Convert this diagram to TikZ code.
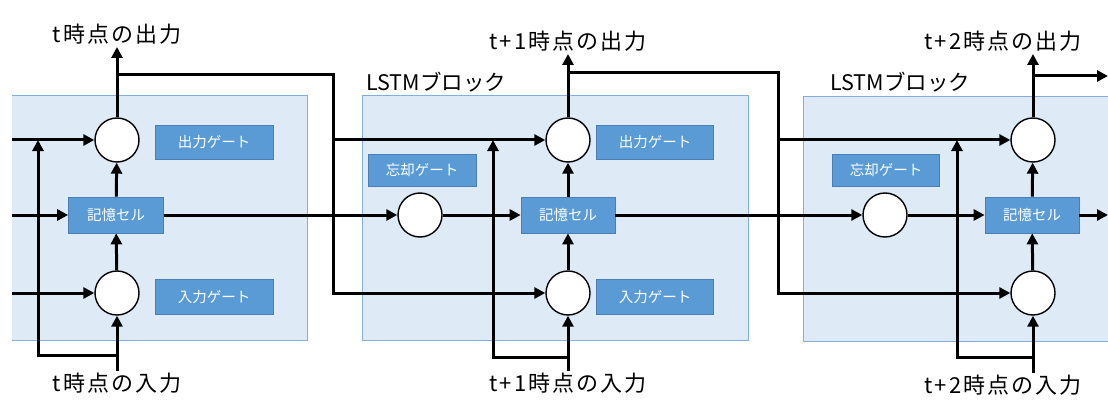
\documentclass[tikz,border=0pt]{standalone}
\usepackage{fontspec}
\setmainfont{Noto Sans CJK JP}
\newfontfamily\iofont[LetterSpace=9]{Noto Sans CJK JP}
\usetikzlibrary{arrows.meta}

\definecolor{blockfill}{HTML}{DEEBF7}
\definecolor{blockline}{HTML}{86AEDB}
\definecolor{tagfill}{HTML}{5B9BD5}
\definecolor{tagline}{HTML}{4A7FB5}

\begin{document}
\begin{tikzpicture}[x=1pt,y=-1pt,
    block/.style={fill=blockfill, draw=blockline, line width=0.9pt},
    gate/.style={circle, draw, fill=white, line width=1.4pt, minimum size=44pt, inner sep=0pt},
    tag/.style={rectangle, fill=tagfill, draw=tagline, line width=0.7pt, text=white,
                font=\fontsize{14.5}{16}\selectfont, inner sep=0pt},
    conn/.style={line width=3pt},
    arr/.style={conn, -{Triangle[length=11pt,width=11pt]}},
    io/.style={font=\iofont\fontsize{22}{25}\selectfont, inner sep=2pt},
    blocklabel/.style={font=\fontsize{21.5}{24}\selectfont, inner sep=0pt, anchor=south west}]
  \useasboundingbox (0,0) rectangle (1108,401);

  % LSTM blocks
  \fill[blockfill] (12,95) rectangle (307,340);
  \draw[blockline, line width=0.9pt] (12,95) -- (307,95) -- (307,340) -- (12,340);
  \draw[block] (362,95) rectangle (748,340);
  \draw[block] (803,96) rectangle (1120,341);
  \node[blocklabel] (lbl2) at (366,92) {LSTMブロック};
  \node[blocklabel] (lbl3) at (830,92) {LSTMブロック};

  % block t
  \node[gate] (og1) at (117,140) {};
  \node[gate] (ig1) at (117,293) {};
  \node[tag, minimum width=95pt, minimum height=36pt] (mc1) at (116,215) {記憶セル};
  \node[tag, minimum width=118pt, minimum height=34pt] (ogl1) at (214,142) {出力ゲート};
  \node[tag, minimum width=118pt, minimum height=35pt] (igl1) at (214,297) {入力ゲート};
  \node[io, anchor=south] (out1) at (117,47) {t時点の出力};
  \node[io, anchor=north] (in1) at (117,371) {t時点の入力};

  % block t+1
  \node[gate] (fg2) at (420,215) {};
  \node[gate] (og2) at (568,140) {};
  \node[gate] (ig2) at (568,293) {};
  \node[tag, minimum width=108pt, minimum height=32pt] (fgl2) at (422,170) {忘却ゲート};
  \node[tag, minimum width=94pt, minimum height=36pt] (mc2) at (568,215) {記憶セル};
  \node[tag, minimum width=117pt, minimum height=34pt] (ogl2) at (655,142) {出力ゲート};
  \node[tag, minimum width=117pt, minimum height=35pt] (igl2) at (655,297) {入力ゲート};
  \node[io, anchor=south] (out2) at (568,54) {t+1時点の出力};
  \node[io, anchor=north] (in2) at (568,371) {t+1時点の入力};

  % block t+2
  \node[gate] (fg3) at (885,215) {};
  \node[gate] (og3) at (1033,140) {};
  \node[gate] (ig3) at (1033,293) {};
  \node[tag, minimum width=107pt, minimum height=32pt] (fgl3) at (886,170) {忘却ゲート};
  \node[tag, minimum width=94pt, minimum height=36pt] (mc3) at (1032,215) {記憶セル};
  \node[io, anchor=south] (out3) at (1003,54) {t+2時点の出力};
  \node[io, anchor=north] (in3) at (1003,373) {t+2時点の入力};

  % free ends and corners
  \coordinate (h1) at (12,140);
  \coordinate (c1) at (12,215);
  \coordinate (x1) at (12,293);
  \coordinate (b1) at (117,355);
  \coordinate (t1) at (38,140);
  \coordinate (r1) at (117,75);
  \coordinate (k1) at (333,140);
  \coordinate (b2) at (568,357);
  \coordinate (t2) at (493,140);
  \coordinate (r2) at (568,73);
  \coordinate (k2) at (778,140);
  \coordinate (b3) at (1033,357);
  \coordinate (t3) at (957,140);
  \coordinate (r3) at (1033,76);
  \coordinate (e3) at (1108,76);
  \coordinate (m3) at (1108,215);

  % connectors, block t
  \draw[arr] (h1) -- (og1);
  \draw[arr] (c1) -- (mc1);
  \draw[arr] (x1) -- (ig1);
  \draw[arr] (in1.north) -- (ig1);
  \draw[arr] (b1) -| (t1);
  \draw[arr] (ig1) -- (mc1);
  \draw[arr] (mc1) -- (og1);
  \draw[arr] (og1) -- (og1 |- out1.south);
  \draw[conn] (r1) -| (k1);
  \draw[arr] (k1) -- (og2);
  \draw[arr] (k1) |- (ig2);
  \draw[arr] (mc1) -- (fg2);

  % connectors, block t+1
  \draw[arr] (fg2) -- (mc2);
  \draw[arr] (in2.north) -- (ig2);
  \draw[arr] (b2) -| (t2);
  \draw[arr] (ig2) -- (mc2);
  \draw[arr] (mc2) -- (og2);
  \draw[arr] (og2) -- (og2 |- out2.south);
  \draw[conn] (r2) -| (k2);
  \draw[arr] (k2) -- (og3);
  \draw[arr] (k2) |- (ig3);
  \draw[arr] (mc2) -- (fg3);

  % connectors, block t+2
  \draw[arr] (fg3) -- (mc3);
  \draw[arr] (ig3 |- in3.north) -- (ig3);
  \draw[arr] (b3) -| (t3);
  \draw[arr] (ig3) -- (mc3);
  \draw[arr] (mc3) -- (og3);
  \draw[arr] (og3) -- (og3 |- out3.south);
  \draw[arr] (r3) -- (e3);
  \draw[arr] (mc3) -- (m3);
\end{tikzpicture}
\end{document}
